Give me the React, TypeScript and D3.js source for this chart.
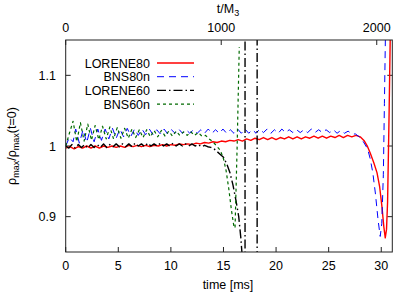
import React from 'react';
import * as d3 from 'd3';

type Pt = [number, number];

// time [ms], rho_max / rho_max(t=0)
const lorene80: Pt[] = [
  [0, 0.997], [0.4, 0.999], [0.8, 0.996], [1.2, 0.999], [1.6, 0.997], [2.0, 1.0], [2.4, 0.997], [2.8, 1.0],
  [3.2, 0.997], [3.6, 1.0], [4.0, 0.998], [4.4, 1.0], [4.8, 0.998], [5.2, 1.0], [5.6, 0.998], [6.0, 1.001],
  [6.4, 0.999], [6.8, 1.001], [7.2, 0.999], [7.6, 1.001], [8.0, 0.999], [8.4, 1.001], [8.8, 1.0], [9.2, 1.002],
  [9.6, 1.0], [10.0, 1.002], [10.4, 1.001], [10.8, 1.003], [11.2, 1.002], [11.6, 1.003], [12.0, 1.002], [12.4, 1.004],
  [12.8, 1.003], [13.2, 1.005], [13.6, 1.004], [14.0, 1.006], [14.4, 1.005], [14.8, 1.007], [15.2, 1.006], [15.6, 1.008],
  [16.0, 1.007], [16.4, 1.009], [16.8, 1.007], [17.2, 1.01], [17.6, 1.008], [18.0, 1.011], [18.4, 1.009], [18.8, 1.012],
  [19.2, 1.009], [19.6, 1.012], [20.0, 1.009], [20.4, 1.012], [20.8, 1.01], [21.2, 1.013], [21.6, 1.01], [22.0, 1.013],
  [22.4, 1.01], [22.8, 1.013], [23.2, 1.011], [23.6, 1.014], [24.0, 1.011], [24.4, 1.014], [24.8, 1.011], [25.2, 1.014],
  [25.6, 1.012], [26.0, 1.015], [26.4, 1.012], [26.8, 1.015], [27.2, 1.013], [27.6, 1.015], [28.0, 1.013], [28.4, 1.007],
  [28.7, 0.999], [28.95, 0.99], [29.3, 0.976], [29.6, 0.962], [29.85, 0.942], [30.06, 0.915], [30.25, 0.885], [30.38, 0.87],
  [30.5, 0.882], [30.6, 0.92], [30.75, 1.05], [30.9, 1.2],
];

const bns80n: Pt[] = [
  [0, 1.0], [0.35, 1.012], [0.7, 1.006], [0.95, 1.024], [1.3, 1.004], [1.65, 1.023], [2.0, 1.005], [2.35, 1.025],
  [2.7, 1.006], [3.05, 1.024], [3.4, 1.008], [3.75, 1.024], [4.1, 1.01], [4.45, 1.025], [4.8, 1.011], [5.15, 1.024],
  [5.5, 1.013], [5.85, 1.025], [6.2, 1.014], [6.55, 1.024], [6.9, 1.015], [7.25, 1.024], [7.6, 1.016], [7.95, 1.024],
  [8.3, 1.016], [8.65, 1.023], [9.0, 1.017], [9.35, 1.024], [9.7, 1.017], [10.05, 1.023], [10.4, 1.018], [10.75, 1.024],
  [11.1, 1.018], [11.45, 1.023], [11.8, 1.018], [12.15, 1.023], [12.5, 1.018], [12.85, 1.023], [13.2, 1.018], [13.55, 1.024],
  [13.9, 1.018], [14.25, 1.023], [14.6, 1.018], [14.95, 1.024], [15.3, 1.018], [15.65, 1.023], [16.0, 1.018], [16.35, 1.024],
  [16.7, 1.018], [17.05, 1.024], [17.4, 1.018], [17.75, 1.023], [18.1, 1.018], [18.45, 1.024], [18.8, 1.019], [19.15, 1.024],
  [19.5, 1.018], [19.85, 1.023], [20.2, 1.018], [20.55, 1.024], [20.9, 1.019], [21.25, 1.023], [21.6, 1.019], [21.95, 1.023],
  [22.3, 1.019], [22.65, 1.023], [23.0, 1.019], [23.35, 1.024], [23.7, 1.019], [24.05, 1.023], [24.4, 1.019], [24.75, 1.023],
  [25.1, 1.019], [25.45, 1.023], [25.8, 1.018], [26.15, 1.022], [26.5, 1.018], [26.85, 1.021], [27.2, 1.017], [27.55, 1.017],
  [27.9, 1.013], [28.3, 1.006], [28.7, 0.996], [28.95, 0.982], [29.2, 0.962], [29.45, 0.932], [29.7, 0.895], [29.9, 0.872],
  [30.05, 0.89], [30.2, 0.96], [30.3, 1.06], [30.4, 1.16],
];

const lorene60: Pt[] = [
  [0, 1.0], [0.3, 0.997], [0.6, 1.002], [0.9, 0.997], [1.2, 1.002], [1.5, 0.998], [1.8, 1.002], [2.1, 0.997],
  [2.4, 1.002], [2.7, 0.998], [3.0, 1.002], [3.3, 0.998], [3.6, 1.003], [3.9, 0.998], [4.2, 1.002], [4.5, 0.999],
  [4.8, 1.003], [5.1, 0.999], [5.4, 1.003], [5.7, 0.999], [6.0, 1.003], [6.3, 0.999], [6.6, 1.004], [6.9, 1.0],
  [7.2, 1.003], [7.5, 0.999], [7.8, 1.004], [8.1, 1.0], [8.4, 1.003], [8.7, 1.0], [9.0, 1.004], [9.3, 1.0],
  [9.6, 1.003], [9.9, 1.0], [10.2, 1.004], [10.5, 1.0], [10.8, 1.003], [11.1, 1.0], [11.4, 1.003], [11.7, 1.0],
  [12.0, 1.003], [12.3, 1.0], [12.6, 1.002], [12.9, 0.999], [13.2, 1.001], [13.5, 0.999], [13.8, 0.998], [14.1, 0.996],
  [14.4, 0.992], [14.7, 0.988], [15.0, 0.984], [15.3, 0.975], [15.6, 0.963], [15.9, 0.945], [16.2, 0.922], [16.45, 0.9],
  [16.65, 0.87], [16.8, 0.84], [16.85, 0.8], [17.05, 0.8], [17.05, 1.3], [18.2, 1.3], [18.2, 0.8],
];

const bns60n: Pt[] = [
  [0, 1.0], [0.35, 1.018], [0.7, 1.035], [1.05, 1.006], [1.4, 1.033], [1.75, 1.007], [2.1, 1.031], [2.45, 1.008],
  [2.8, 1.029], [3.15, 1.009], [3.5, 1.028], [3.85, 1.01], [4.2, 1.027], [4.55, 1.01], [4.9, 1.026], [5.25, 1.011],
  [5.6, 1.025], [5.95, 1.011], [6.3, 1.024], [6.65, 1.012], [7.0, 1.023], [7.35, 1.012], [7.7, 1.023], [8.05, 1.013],
  [8.4, 1.022], [8.75, 1.013], [9.1, 1.022], [9.45, 1.014], [9.8, 1.021], [10.15, 1.014], [10.5, 1.021], [10.85, 1.015],
  [11.2, 1.02], [11.55, 1.015], [11.9, 1.02], [12.25, 1.015], [12.6, 1.019], [12.95, 1.014], [13.3, 1.015], [13.65, 1.01],
  [14.0, 1.006], [14.35, 1.0], [14.7, 0.994], [15.0, 0.982], [15.25, 0.965], [15.5, 0.94], [15.75, 0.91], [16.0, 0.885],
  [16.1, 0.884], [16.3, 1.0], [16.5, 1.14],
];

const timeTicks = [0, 5, 10, 15, 20, 25, 30];
const massTicks = [0, 1000, 2000];
const rhoTicks = [0.9, 1, 1.1];

const series = [
  { name: 'LORENE80', data: lorene80, color: '#ff0000', dash: 'none', width: 1.4 },
  { name: 'BNS80n', data: bns80n, color: '#0000ff', dash: '7,5', width: 1 },
  { name: 'LORENE60', data: lorene60, color: '#000000', dash: '9,3,1.5,3', width: 1.4 },
  { name: 'BNS60n', data: bns60n, color: '#006a00', dash: '3,3', width: 1.2 },
];

const W = 415;
const H = 295;
const L = 65.7;
const R = 392.3;
const T = 40;
const B = 252;
const font = '"Liberation Sans", Arial, sans-serif';

export default function App() {
  const x = d3.scaleLinear().domain([0, 31.05]).range([L, R]);
  const xTop = d3.scaleLinear().domain([0, 2100]).range([L, R]);
  const y = d3.scaleLinear().domain([0.85, 1.15]).range([B, T]);

  const line = d3.line<Pt>().x(d => x(d[0])).y(d => y(d[1]));

  const tick = 5;
  const frame = '#222';

  return (
    <svg width={W} height={H} style={{ position: 'absolute', left: 0, top: 0, background: '#fff' }} fontFamily={font}>
      <defs>
        <clipPath id="plot">
          <rect x={L} y={T} width={R - L} height={B - T} />
        </clipPath>
      </defs>

      {/* ticks */}
      {timeTicks.map(t => (
        <g key={'b' + t}>
          <line x1={x(t)} x2={x(t)} y1={B} y2={B - tick} stroke={frame} />
          <text x={x(t)} y={270} fontSize={12.5} textAnchor="middle">{t}</text>
        </g>
      ))}
      {massTicks.map(m => (
        <g key={'t' + m}>
          <line x1={xTop(m)} x2={xTop(m)} y1={T} y2={T + tick} stroke={frame} />
          <text x={xTop(m)} y={32} fontSize={12.5} textAnchor="middle">{m}</text>
        </g>
      ))}
      {rhoTicks.map(v => (
        <g key={'l' + v}>
          <line x1={L} x2={L + tick} y1={y(v)} y2={y(v)} stroke={frame} />
          <line x1={R} x2={R - tick} y1={y(v)} y2={y(v)} stroke={frame} />
          <text x={56} y={y(v) + 4.5} fontSize={12.5} textAnchor="end">{v}</text>
        </g>
      ))}

      {/* curves */}
      <g clipPath="url(#plot)">
        {series.map(s => (
          <path key={s.name} d={line(s.data) || ''} fill="none" stroke={s.color}
            strokeWidth={s.width} strokeDasharray={s.dash} strokeLinejoin="round" />
        ))}
      </g>

      <rect x={L} y={T} width={R - L} height={B - T} fill="none" stroke={frame} strokeWidth={1} />

      {/* legend */}
      {series.map((s, i) => (
        <g key={'lg' + s.name} transform={`translate(0, ${63 + i * 13.7})`}>
          <text x={150} y={4.5} fontSize={12.5} textAnchor="end">{s.name}</text>
          <line x1={157} x2={194} y1={0} y2={0} stroke={s.color} strokeWidth={s.width} strokeDasharray={s.dash} />
        </g>
      ))}

      {/* axis titles */}
      <text x={228} y={289} fontSize={12.5} textAnchor="middle">time [ms]</text>
      <text x={228} y={13} fontSize={12.5} textAnchor="middle">
        t/M<tspan dy={3} fontSize={9}>3</tspan>
      </text>
      <text transform={`translate(16, ${146}) rotate(-90)`} fontSize={12.5} textAnchor="middle">
        ρ<tspan dy={3} fontSize={9}>max</tspan>
        <tspan dy={-3}>/ρ</tspan>
        <tspan dy={3} fontSize={9}>max</tspan>
        <tspan dy={-3}>(t=0)</tspan>
      </text>
    </svg>
  );
}
